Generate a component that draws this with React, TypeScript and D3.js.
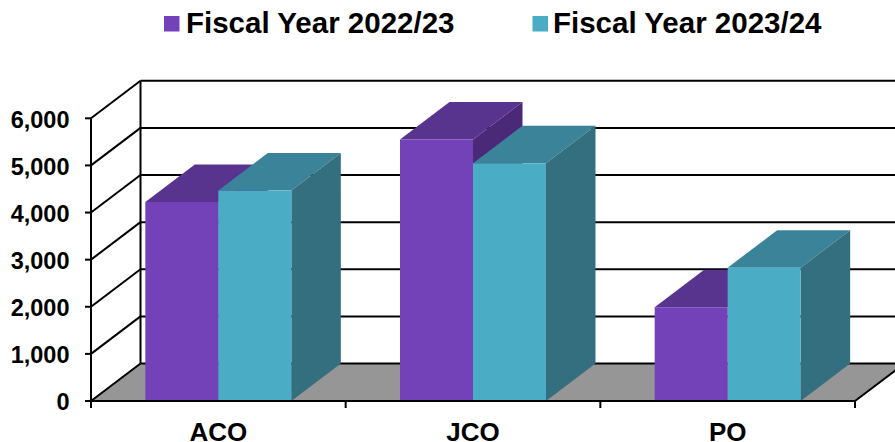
import React from "react";
import * as d3 from "d3";

// Personnel counts per category for two fiscal years
const categories = ["ACO", "JCO", "PO"];
const seriesNames = ["Fiscal Year 2022/23", "Fiscal Year 2023/24"];
const fy2223 = [4225, 5550, 1990];
const fy2324 = [4465, 5045, 2830];
const yTicks = [0, 1000, 2000, 3000, 4000, 5000, 6000];

// Shades per series: front face, top face, side face
const purple = { front: "#7442B8", top: "#58348F", side: "#4A2A78" };
const teal = { front: "#4BACC6", top: "#3B8398", side: "#346F7F" };
const floorFill = "#969696";

const W = 895;
const H = 442;
const DX = 49.5; // oblique depth offset
const DY = -37.5;

const x = d3.scaleBand<string>().domain(categories).range([91, 855]);
const y = d3.scaleLinear().domain([0, 6000]).range([401, 118.3]);
const fmt = d3.format(",");
const font = "'Liberation Sans', Arial, sans-serif";

const BAR_W = 73;

function poly(pts: [number, number][]) {
  return (d3.line()(pts) as string) + "Z";
}

function Bar({ x0, value, c }: { x0: number; value: number; c: typeof purple }) {
  const x1 = x0 + BAR_W;
  const y0 = y(0);
  const yt = y(value);
  return (
    <g>
      <path d={poly([[x0, yt], [x1, yt], [x1 + DX, yt + DY], [x0 + DX, yt + DY]])} fill={c.top} />
      <path d={poly([[x1, yt], [x1, y0], [x1 + DX, y0 + DY], [x1 + DX, yt + DY]])} fill={c.side} />
      <rect x={x0} y={yt} width={BAR_W} height={y0 - yt} fill={c.front} />
    </g>
  );
}

export default function App() {
  const [r0, r1] = x.range();
  const edges = [...categories.map((c) => x(c) as number), r1];
  const stroke = { stroke: "#000", strokeWidth: 2, fill: "none" };
  return (
    <svg width={W} height={H} style={{ position: "absolute", left: 0, top: 0, background: "#fff" }} fontFamily={font} fontWeight="bold">
      {/* floor */}
      <path d={poly([[r0, y(0)], [r1, y(0)], [r1 + DX, y(0) + DY], [r0 + DX, y(0) + DY]])} fill={floorFill} />
      {/* back wall and side wall gridlines */}
      {yTicks.map((t) => (
        <g key={t}>
          <line x1={r0 + DX} x2={r1 + DX} y1={y(t) + DY} y2={y(t) + DY} {...stroke} />
          <line x1={r0} x2={r0 + DX} y1={y(t)} y2={y(t) + DY} {...stroke} />
          <line x1={r0 - 6} x2={r0} y1={y(t)} y2={y(t)} {...stroke} />
          <text x={69.5} y={y(t)} dy={9.4} textAnchor="end" fontSize={23.5} fill="#000">
            {fmt(t)}
          </text>
        </g>
      ))}
      <line x1={r0 + DX} x2={r0 + DX} y1={y(0) + DY} y2={y(6000) + DY} {...stroke} />
      <line x1={r0} x2={r0} y1={y(0)} y2={y(6000)} {...stroke} />
      <line x1={r1} x2={r1 + DX} y1={y(0)} y2={y(0) + DY} {...stroke} />
      {/* bars */}
      {categories.map((c, i) => {
        const mid = (x(c) as number) + x.bandwidth() / 2;
        return (
          <g key={c}>
            <Bar x0={mid - BAR_W} value={fy2223[i]} c={purple} />
            <Bar x0={mid} value={fy2324[i]} c={teal} />
          </g>
        );
      })}
      {/* front axis */}
      <line x1={r0} x2={r1} y1={y(0)} y2={y(0)} {...stroke} />
      {edges.map((e) => (
        <line key={e} x1={e} x2={e} y1={y(0)} y2={y(0) + 7} {...stroke} />
      ))}
      {categories.map((c) => (
        <text key={c} x={(x(c) as number) + x.bandwidth() / 2} y={441} textAnchor="middle" fontSize={26} fill="#000">
          {c}
        </text>
      ))}
      {/* legend */}
      {seriesNames.map((n, i) => (
        <g key={n}>
          <rect x={[164, 532.5][i]} y={16} width={15.5} height={15.5} fill={[purple, teal][i].front} />
          <text x={[186, 553][i]} y={33} fontSize={29.5} fill="#000">
            {n}
          </text>
        </g>
      ))}
    </svg>
  );
}
